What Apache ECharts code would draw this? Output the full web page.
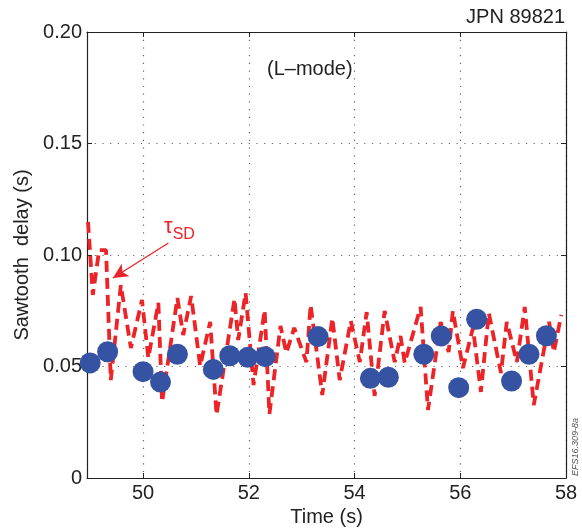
<!DOCTYPE html>
<html>
<head>
<meta charset="utf-8">
<script src="https://cdn.jsdelivr.net/npm/echarts@6/dist/echarts.min.js"></script>
<style>html,body{margin:0;padding:0;background:#fff}#c{width:582px;height:528px}</style>
</head>
<body>
<div id="c"></div>
<script>
// Sawtooth delay tau_SD (dashed red line)
const sdTime = [48.96,49.05,49.17,49.30,49.39,49.58,49.77,49.98,50.10,50.29,50.36,50.65,50.76,50.91,51.08,51.27,51.39,51.73,51.80,51.94,52.09,52.30,52.39,52.60,52.71,52.86,53.09,53.17,53.39,53.58,53.72,53.93,54.10,54.23,54.38,54.57,54.76,54.87,54.95,55.25,55.39,55.63,55.78,55.86,56.05,56.24,56.39,56.54,56.77,56.88,57.07,57.22,57.39,57.68,57.77,57.91];
const sdValue = [0.1148,0.0821,0.1022,0.1022,0.0439,0.0865,0.0583,0.0798,0.0538,0.0785,0.0341,0.0807,0.0641,0.0816,0.0502,0.0700,0.0283,0.0803,0.0619,0.0830,0.0417,0.0753,0.0287,0.0682,0.0561,0.0673,0.0520,0.0776,0.0372,0.0717,0.0439,0.0704,0.0520,0.0744,0.0368,0.0749,0.0520,0.0637,0.0516,0.0767,0.0305,0.0700,0.0565,0.0749,0.0493,0.0673,0.0386,0.0740,0.0471,0.0700,0.0520,0.0767,0.0327,0.0700,0.0565,0.0731];
// Measured sawtooth delay (blue dots)
const dotTime = [49.00,49.33,50.00,50.33,50.65,51.33,51.64,51.98,52.31,53.31,54.30,54.64,55.31,55.64,55.97,56.31,56.97,57.30,57.63];
const dotValue = [0.0516,0.0566,0.0477,0.0430,0.0555,0.0487,0.0548,0.0541,0.0544,0.0634,0.0447,0.0452,0.0555,0.0637,0.0405,0.0712,0.0435,0.0555,0.0638];
// Axis ticks
const xTicks = [50,52,54,56,58];
const yTicks = [0,0.05,0.10,0.15,0.20];
const yTickLabels = ['0','0.05','0.10','0.15','0.20'];
// Annotation arrow (data coords)
const arrowFrom = [50.48,0.1054];
const arrowTo = [49.43,0.0897];

const FONT = '"Liberation Sans", Arial, sans-serif';
const chart = echarts.init(document.getElementById('c'), null, {renderer:'canvas'});
const pair = (a,b)=>a.map((v,i)=>[v,b[i]]);
const gridLine = {show:true, lineStyle:{color:'#666', type:[1.2,6.5], width:1.2}};
chart.setOption({
  animation:false,
  backgroundColor:'#fff',
  grid:{left:87,right:16,top:32,bottom:50,containLabel:false,outerBoundsMode:'none'},
  xAxis:[{
    type:'value', min:48.94, max:58,
    axisLine:{show:true,onZero:false,lineStyle:{color:'#222',width:1.2}},
    axisTick:{show:true,inside:true,length:5,customValues:xTicks,lineStyle:{color:'#222'}},
    axisLabel:{customValues:xTicks,color:'#222',fontSize:20,fontFamily:FONT,margin:5},
    splitLine:gridLine,
    name:'Time (s)',nameLocation:'middle',nameGap:29,
    nameTextStyle:{color:'#222',fontSize:20,fontFamily:FONT}
  },{
    type:'value', min:48.94, max:58, position:'top',
    axisLine:{show:true,onZero:false,lineStyle:{color:'#222',width:1.2}},
    axisTick:{show:true,inside:true,length:5,customValues:xTicks,lineStyle:{color:'#222'}},
    axisLabel:{show:false}, splitLine:{show:false}
  }],
  yAxis:[{
    type:'value', min:0, max:0.2, interval:0.05,
    axisLine:{show:true,onZero:false,lineStyle:{color:'#222',width:1.2}},
    axisTick:{show:true,inside:true,length:5,lineStyle:{color:'#222'}},
    axisLabel:{color:'#222',fontSize:20,fontFamily:FONT,margin:5,
      formatter:v=>{const i=yTicks.findIndex(t=>Math.abs(t-v)<1e-9);return i>=0?yTickLabels[i]:'';}},
    splitLine:gridLine,
    name:'Sawtooth  delay (s)',nameLocation:'middle',nameGap:49,nameRotate:90,
    nameTextStyle:{color:'#222',fontSize:20,fontFamily:FONT}
  },{
    type:'value', min:0, max:0.2, interval:0.05, position:'right',
    axisLine:{show:true,onZero:false,lineStyle:{color:'#222',width:1.2}},
    axisTick:{show:true,inside:true,length:5,lineStyle:{color:'#222'}},
    axisLabel:{show:false}, splitLine:{show:false}
  }],
  series:[{
    type:'line', data:pair(sdTime,sdValue), showSymbol:false, symbol:'none',
    lineStyle:{color:'#ec2327',width:3.8,type:[11,6]}, z:3,
    markLine:{
      silent:true, symbol:['none','arrow'], symbolSize:[11,15],
      lineStyle:{color:'#ec2327',width:1.3,type:'solid'},
      label:{show:false},
      data:[[{coord:arrowFrom},{coord:arrowTo}]]
    }
  },{
    type:'scatter', data:pair(dotTime,dotValue), symbol:'circle', symbolSize:21,
    itemStyle:{color:'#3552a3',opacity:1}, z:4
  }],
  graphic:[
    {type:'text',right:17,top:7,style:{text:'JPN 89821',fill:'#222',font:'20px '+FONT}},
    {type:'text',left:267,top:59,style:{text:'(L\u2013mode)',fill:'#222',font:'20px '+FONT}},
    {type:'text',left:164,top:216,style:{
      text:'{t|\u03c4}{s|SD}',fill:'#ec2327',
      rich:{t:{fontSize:22,fontFamily:FONT,fill:'#ec2327',verticalAlign:'top'},
            s:{fontSize:16,fontFamily:FONT,fill:'#ec2327',padding:[11,0,0,0]}}}},
    {type:'text',x:575,y:476,rotation:Math.PI/2,style:{text:'EFS16.309-8a',fill:'#555',font:'italic 9px '+FONT,textAlign:'left',textVerticalAlign:'middle'}}
  ]
});
</script>
</body>
</html>
